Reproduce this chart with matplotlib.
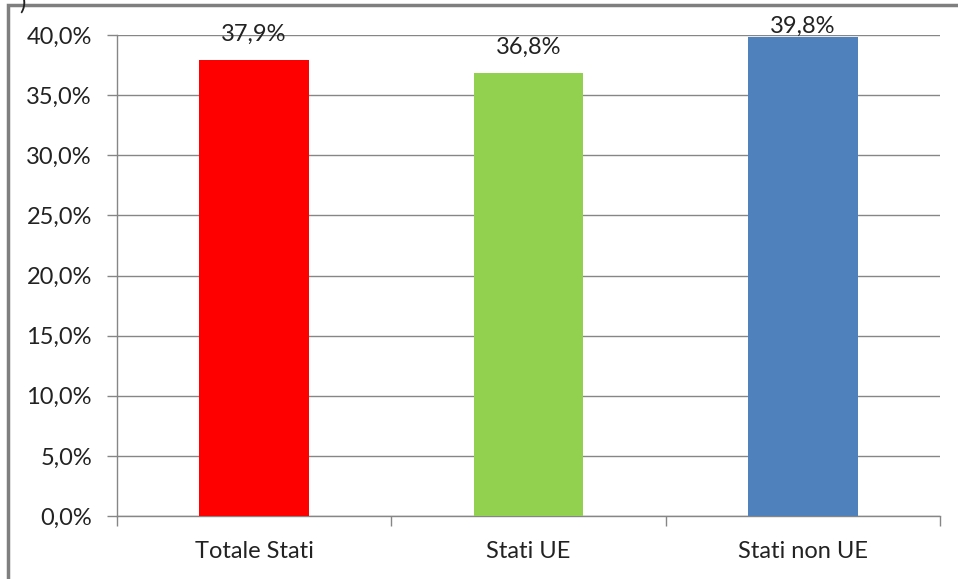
import matplotlib.pyplot as plt
from matplotlib.patches import Rectangle
from matplotlib.ticker import FuncFormatter

categories = ["Totale Stati", "Stati UE", "Stati non UE"]
values = [37.9, 36.8, 39.8]
colors = ["#FF0000", "#92D050", "#4F81BD"]
yticks = [0, 5, 10, 15, 20, 25, 30, 35, 40]

plt.rcParams['font.family'] = ['Lato', 'DejaVu Sans']
GRAY = "#868686"
FS = 17

fig = plt.figure(figsize=(9.58, 5.79), dpi=100)
ax = fig.add_axes([117/958, 1 - 516/579, (940 - 117)/958, (516 - 35)/579])

x = range(len(categories))
ax.bar(x, values, width=0.4, color=colors, zorder=3)
for i, v in zip(x, values):
    # labels that would leave the chart area get pushed down (as Excel does)
    ax.text(i, min(v + 1.6, 40.15), f"{v:.1f}%".replace(".", ","), ha="center", va="baseline",
            fontsize=FS, color="#222222", zorder=4)

ax.set_xlim(-0.5, 2.5)
ax.set_ylim(0, 40)
ax.set_yticks(yticks)
ax.yaxis.set_major_formatter(FuncFormatter(lambda v, p: f"{v:.1f}%".replace(".", ",")))
ax.set_xticks(list(x))
ax.set_xticklabels(categories)
ax.set_xticks([-0.5, 0.5, 1.5, 2.5], minor=True)

ax.grid(axis="y", color=GRAY, linewidth=1, zorder=0)
for s in ["top", "right"]:
    ax.spines[s].set_visible(False)
for s in ["left", "bottom"]:
    ax.spines[s].set_color(GRAY)
    ax.spines[s].set_linewidth(1)

ax.tick_params(axis="y", length=7, width=1, color=GRAY, pad=11, labelsize=FS, labelcolor="#222222")
ax.tick_params(axis="x", which="major", length=0, pad=18, labelsize=FS, labelcolor="#222222")
ax.tick_params(axis="x", which="minor", length=7, width=1, color=GRAY)

# outer chart frame (partly cut off in the original)
fig.patches.append(Rectangle((8/958, -0.1), 1.1, 1 - 5/579 + 0.1, transform=fig.transFigure,
                             fill=False, edgecolor="#7F7F7F", linewidth=2.5))
fig.text(22/958, 0.995, ")", fontsize=FS, va="center", ha="center", color="#222222")

fig.savefig("out.png", dpi=100)
